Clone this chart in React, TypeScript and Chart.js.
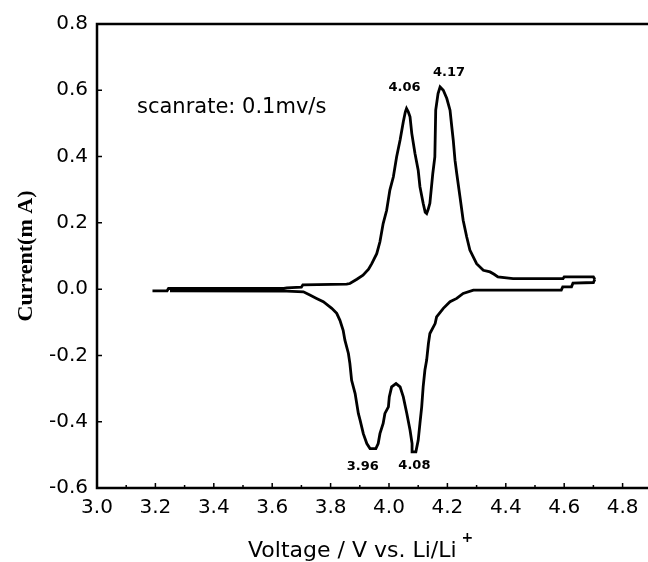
import { useEffect, useRef } from "react";
import { Chart, registerables } from "chart.js";

Chart.register(...registerables);

// Axis ticks
const xTickValues = [3.0, 3.2, 3.4, 3.6, 3.8, 4.0, 4.2, 4.4, 4.6, 4.8];
const xMinorValues = [3.1, 3.3, 3.5, 3.7, 3.9, 4.1, 4.3, 4.5, 4.7];
const yTickValues = [-0.6, -0.4, -0.2, 0.0, 0.2, 0.4, 0.6, 0.8];

// Anodic (forward) sweep, V vs. Li/Li+ and current in mA
const anodicVoltage = [
  3.19, 3.24, 3.245, 3.64, 3.65, 3.70, 3.705, 3.855, 3.866, 3.89, 3.911, 3.93,
  3.941, 3.958, 3.969, 3.98, 3.992, 4.003, 4.015, 4.026, 4.038, 4.049, 4.056,
  4.06, 4.066, 4.072, 4.078, 4.089, 4.1, 4.106, 4.117, 4.124, 4.129, 4.134,
  4.14, 4.15, 4.157, 4.16, 4.168, 4.175, 4.186, 4.198, 4.209, 4.215, 4.22,
  4.226, 4.232, 4.243, 4.254, 4.266, 4.277, 4.3, 4.323, 4.346, 4.36, 4.373,
  4.425, 4.596, 4.6, 4.7, 4.705,
];
const anodicCurrent = [
  -0.005, -0.005, 0.002, 0.002, 0.004, 0.006, 0.013, 0.015, 0.017, 0.03, 0.042,
  0.06, 0.077, 0.107, 0.143, 0.198, 0.238, 0.299, 0.339, 0.399, 0.45, 0.505,
  0.535, 0.545, 0.535, 0.52, 0.47, 0.409, 0.359, 0.309, 0.259, 0.232, 0.228,
  0.24, 0.259, 0.349, 0.399, 0.54, 0.59, 0.61, 0.6, 0.575, 0.54, 0.49, 0.45,
  0.389, 0.349, 0.279, 0.208, 0.158, 0.118, 0.077, 0.057, 0.052, 0.045, 0.037,
  0.032, 0.032, 0.037, 0.037, 0.03,
];

// Cathodic (reverse) sweep
const cathodicVoltage = [
  4.705, 4.7, 4.63, 4.625, 4.595, 4.59, 4.289, 4.254, 4.232, 4.209, 4.186,
  4.163, 4.158, 4.14, 4.135, 4.129, 4.123, 4.117, 4.112, 4.106, 4.1, 4.092,
  4.082, 4.079, 4.072, 4.061, 4.049, 4.038, 4.024, 4.009, 4.001, 3.998, 3.986,
  3.98, 3.969, 3.963, 3.955, 3.935, 3.924, 3.912, 3.901, 3.895, 3.884, 3.872,
  3.866, 3.861, 3.849, 3.843, 3.832, 3.821, 3.804, 3.775, 3.752, 3.729, 3.707,
  3.65, 3.25,
];
const cathodicCurrent = [
  0.03, 0.02, 0.018, 0.007, 0.007, -0.003, -0.003, -0.013, -0.028, -0.038,
  -0.058, -0.084, -0.104, -0.134, -0.164, -0.214, -0.244, -0.295, -0.355,
  -0.405, -0.456, -0.491, -0.491, -0.466, -0.425, -0.375, -0.325, -0.295,
  -0.285, -0.295, -0.325, -0.355, -0.375, -0.405, -0.436, -0.466, -0.481,
  -0.481, -0.466, -0.436, -0.395, -0.375, -0.315, -0.275, -0.224, -0.194,
  -0.154, -0.124, -0.094, -0.073, -0.058, -0.038, -0.028, -0.018, -0.008,
  -0.006, -0.005,
];

// Peak annotations
const peakLabels = ["4.06", "4.17", "3.96", "4.08"];
const peakVoltage = [4.06, 4.175, 3.955, 4.087];
const peakCurrent = [0.545, 0.61, -0.481, -0.491];

const annotationText = "scanrate: 0.1mv/s";
const xTitle = "Voltage / V vs. Li/Li";
const xTitleSup = "+";
const yTitle = "Current(m A)";

// pixel offsets of each peak label from its peak point
const peakLabelOffsets: [number, number][] = [
  [-2, -21],
  [9, -14],
  [-13, 18],
  [0, 14],
];

const framePlugin = {
  id: "cvFrame",
  afterDraw(chart: any) {
    const { ctx, chartArea, scales } = chart;
    const { left, right, top, bottom } = chartArea;
    const xs = scales.x;
    const ys = scales.y;
    ctx.save();
    ctx.strokeStyle = "#000";
    ctx.lineWidth = 2.5;
    ctx.lineCap = "butt";
    ctx.beginPath();
    ctx.moveTo(right, top);
    ctx.lineTo(left, top);
    ctx.lineTo(left, bottom);
    ctx.lineTo(right, bottom);
    ctx.stroke();

    // inward tick marks
    ctx.lineWidth = 1.5;
    ctx.beginPath();
    xTickValues.forEach((v) => {
      const px = xs.getPixelForValue(v);
      if (px <= left + 2) return;
      ctx.moveTo(px, bottom);
      ctx.lineTo(px, bottom - 5);
    });
    xMinorValues.forEach((v) => {
      const px = xs.getPixelForValue(v);
      ctx.moveTo(px, bottom);
      ctx.lineTo(px, bottom - 3);
    });
    yTickValues.forEach((v) => {
      const py = ys.getPixelForValue(v);
      if (py <= top + 2 || py >= bottom - 2) return;
      ctx.moveTo(left, py);
      ctx.lineTo(left + 5, py);
    });
    ctx.stroke();

    ctx.fillStyle = "#000";
    // scan-rate note
    ctx.font = '21px "DejaVu Sans"';
    ctx.textAlign = "left";
    ctx.textBaseline = "alphabetic";
    ctx.fillText(annotationText, left + 40, top + 89);

    // peak labels
    ctx.font = 'bold 13px "DejaVu Sans"';
    ctx.textAlign = "center";
    ctx.textBaseline = "middle";
    peakLabels.forEach((t, i) => {
      const px = xs.getPixelForValue(peakVoltage[i]) + peakLabelOffsets[i][0];
      const py = ys.getPixelForValue(peakCurrent[i]) + peakLabelOffsets[i][1];
      ctx.fillText(t, px, py);
    });

    // x-axis title with superscript
    ctx.font = '22px "DejaVu Sans"';
    ctx.textAlign = "left";
    ctx.textBaseline = "alphabetic";
    const titleW = ctx.measureText(xTitle).width;
    const tx = 248;
    ctx.fillText(xTitle, tx, 557);
    ctx.font = 'bold 14px "DejaVu Sans"';
    ctx.fillText(xTitleSup, tx + titleW + 5, 542);

    // y-axis title
    ctx.translate(26, (top + bottom) / 2);
    ctx.rotate(-Math.PI / 2);
    ctx.font = 'bold 22px "Liberation Serif"';
    ctx.textAlign = "center";
    ctx.textBaseline = "middle";
    ctx.fillText(yTitle, 0, 0);
    ctx.restore();
  },
};

export default function App() {
  const canvasRef = useRef<HTMLCanvasElement | null>(null);

  useEffect(() => {
    if (!canvasRef.current) return;
    const anodic = anodicVoltage.map((v, i) => ({ x: v, y: anodicCurrent[i] }));
    const cathodic = cathodicVoltage.map((v, i) => ({ x: v, y: cathodicCurrent[i] }));
    const tickFont = { family: '"DejaVu Sans"', size: 20 };
    const chart = new Chart(canvasRef.current, {
      type: "scatter",
      data: {
        datasets: [
          {
            data: anodic,
            showLine: true,
            borderColor: "#000",
            borderWidth: 2.8,
            pointRadius: 0,
            tension: 0,
          },
          {
            data: cathodic,
            showLine: true,
            borderColor: "#000",
            borderWidth: 2.8,
            pointRadius: 0,
            tension: 0,
          },
        ],
      },
      options: {
        animation: false,
        responsive: false,
        maintainAspectRatio: false,
        layout: { autoPadding: false, padding: { top: 24, left: 0, right: 0, bottom: 0 } },
        plugins: { legend: { display: false }, tooltip: { enabled: false } },
        scales: {
          x: {
            type: "linear",
            min: 3.0,
            max: 4.887,
            grid: { display: false, drawTicks: false },
            border: { display: false },
            afterBuildTicks: (s: any) => {
              s.ticks = xTickValues.map((v) => ({ value: v }));
            },
            afterFit: (s: any) => {
              s.height = 74;
            },
            ticks: {
              font: tickFont,
              color: "#000",
              padding: 8,
              maxRotation: 0,
              autoSkip: false,
              callback: (v: any) => Number(v).toFixed(1),
            },
          },
          y: {
            type: "linear",
            min: -0.6,
            max: 0.8,
            grid: { display: false, drawTicks: false },
            border: { display: false },
            afterBuildTicks: (s: any) => {
              s.ticks = yTickValues.map((v) => ({ value: v }));
            },
            afterFit: (s: any) => {
              s.width = 97;
            },
            ticks: {
              font: tickFont,
              color: "#000",
              padding: 9,
              autoSkip: false,
              callback: (v: any) => Number(v).toFixed(1),
            },
          },
        },
      },
      plugins: [framePlugin],
    });
    return () => chart.destroy();
  }, []);

  return (
    <div style={{ position: "absolute", left: 0, top: 0, width: 648, height: 562, background: "#fff" }}>
      <canvas ref={canvasRef} width={648} height={562} style={{ width: 648, height: 562 }} />
    </div>
  );
}
